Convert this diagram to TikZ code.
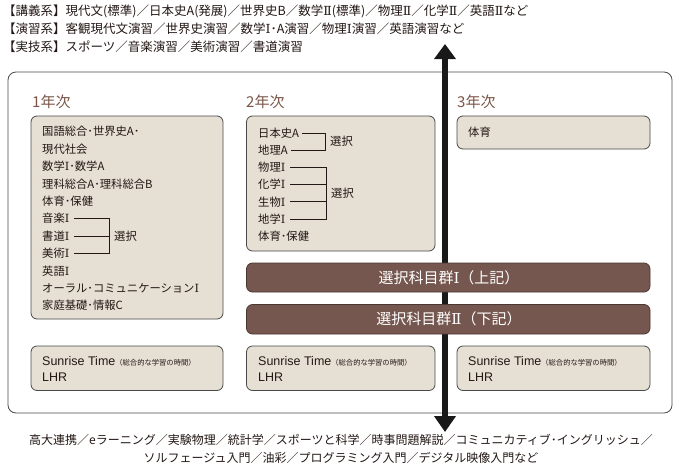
\documentclass[tikz,border=0pt]{standalone}
\usepackage{fontspec}
\setmainfont{Noto Sans CJK JP}
\newfontfamily\latfont{Liberation Sans}
\newfontfamily\romfont{DejaVu Serif}
\usetikzlibrary{arrows.meta}
\newcommand\RI{{\romfont Ⅰ}}
\newcommand\RII{{\romfont Ⅱ}}
\newcommand\dt{･}
\definecolor{boxfill}{HTML}{E5DFD4}
\definecolor{boxline}{HTML}{4A4A4A}
\definecolor{barfill}{HTML}{76574F}
\definecolor{barline}{HTML}{4B3732}
\definecolor{yearcol}{HTML}{7B5548}
\definecolor{txt}{HTML}{231815}
\tikzset{
  subj/.style={fill=boxfill,draw=boxline,line width=0.8pt,rounded corners=6pt},
  barbox/.style={fill=barfill,draw=barline,line width=0.8pt,rounded corners=6pt},
  lbl/.style={anchor=west,inner sep=0pt,text=txt,font=\fontsize{11.3}{12}\selectfont},
  toptxt/.style={anchor=west,inner sep=0pt,text=txt,font=\fontsize{12.5}{13}\selectfont},
  bottxt/.style={inner sep=0pt,text=txt,font=\fontsize{12}{13}\selectfont},
  year/.style={anchor=west,inner sep=0pt,text=yearcol,font=\fontsize{15}{16}\selectfont},
  bartxt/.style={inner sep=0pt,text=white,font=\fontsize{15}{16}\selectfont},
  brk/.style={draw=txt,line width=0.7pt},
  srt/.style={anchor=west,inner sep=0pt,text=txt,font=\latfont\fontsize{12.5}{13}\selectfont}
}
\begin{document}
\begin{tikzpicture}[x=1pt,y=-1pt]
\useasboundingbox (0,0) rectangle (679,466);
% top texts
\node[toptxt] (t1) at (3,11) {【講義系】現代文(標準)／日本史A(発展)／世界史B／数学\RII(標準)／物理\RII／化学\RII／英語\RII など};
\node[toptxt] (t2) at (3,29) {【演習系】客観現代文演習／世界史演習／数学\RI\dt A演習／物理\RI 演習／英語演習など};
\node[toptxt] (t3) at (3,47) {【実技系】スポーツ／音楽演習／美術演習／書道演習};
% outer box
\draw[draw=boxline,line width=0.8pt,rounded corners=8pt,fill=white] (8,72) rectangle (672,413);
% arrow (behind the bars)
\coordinate (atop) at (445,44);
\coordinate (abot) at (445,432);
\draw[line width=6.5pt,draw=black!90,{Triangle[length=15pt,width=21pt]}-{Triangle[length=16pt,width=21pt]}] (atop) -- (abot);
% year labels
\node[year] (y1) at (32,102) {1年次};
\node[year] (y2) at (246,102) {2年次};
\node[year] (y3) at (457,102) {3年次};
% box 1
\draw[subj] (31,116) rectangle (223,319);
\node[lbl] (a1) at (42,131.7) {国語総合\dt 世界史A\dt};
\node[lbl] (a2) at (42,149.1) {現代社会};
\node[lbl] (a3) at (42,166.5) {数学\RI\dt 数学A};
\node[lbl] (a4) at (42,183.9) {理科総合A\dt 理科総合B};
\node[lbl] (a5) at (42,201.3) {体育\dt 保健};
\node[lbl] (a6) at (42,218.7) {音楽\RI};
\node[lbl] (a7) at (42,236.1) {書道\RI};
\node[lbl] (a8) at (42,253.5) {美術\RI};
\node[lbl] (a9) at (42,270.9) {英語\RI};
\node[lbl] (a10) at (42,288.3) {オーラル\dt コミュニケーション\RI};
\node[lbl] (a11) at (42,305.7) {家庭基礎\dt 情報C};
\coordinate (v1) at (109,0);
\draw[brk] ([xshift=5pt]a6.east) -- (a6.east -| v1) -- (a8.east -| v1) -- ([xshift=5pt]a8.east);
\draw[brk] ([xshift=5pt]a7.east) -- (a7.east -| v1);
\node[lbl] (s1) at (114,236.1) {選択};
% box 2
\draw[subj] (246.5,116) rectangle (435,251);
\node[lbl] (b1) at (258,133) {日本史A};
\node[lbl] (b2) at (258,150.2) {地理A};
\node[lbl] (b3) at (258,167.4) {物理\RI};
\node[lbl] (b4) at (258,184.6) {化学\RI};
\node[lbl] (b5) at (258,201.8) {生物\RI};
\node[lbl] (b6) at (258,219) {地学\RI};
\node[lbl] (b7) at (258,236.2) {体育\dt 保健};
\coordinate (v2) at (325,0);
\draw[brk] ([xshift=3pt]b1.east) -- (b1.east -| v2) -- (b2.east -| v2) -- ([xshift=3pt]b2.east);
\node[lbl] (s2) at (330,141.6) {選択};
\coordinate (v3) at (326,0);
\draw[brk] ([xshift=5pt]b3.east) -- (b3.east -| v3) -- (b6.east -| v3) -- ([xshift=5pt]b6.east);
\draw[brk] ([xshift=5pt]b4.east) -- (b4.east -| v3);
\draw[brk] ([xshift=5pt]b5.east) -- (b5.east -| v3);
\node[lbl] (s3) at (331,193.2) {選択};
% box 3
\draw[subj] (457,116) rectangle (650,149);
\node[lbl] (c1) at (468,132.5) {体育};
% bars
\draw[barbox] (246.5,263) rectangle (650,292);
\node[bartxt] (g1) at (449,277.5) {選択科目群\RI（上記）};
\draw[barbox] (246.5,304.5) rectangle (650,334);
\node[bartxt] (g2) at (449,319.2) {選択科目群\RII（下記）};
% sunrise boxes
\draw[subj] (31,346) rectangle (223,390.5);
\draw[subj] (246.5,346) rectangle (435,390.5);
\draw[subj] (457,346) rectangle (650,390.5);
\foreach \xx/\nm in {42/d1,258/d2,468/d3}{
  \node[srt] (\nm) at (\xx,361) {Sunrise Time{\rmfamily\fontsize{7.3}{8}\selectfont（総合的な学習の時間）}};
  \node[srt] (\nm l) at (\xx,377.5) {LHR};
}
% bottom texts
\node[bottxt] (u1) at (341,440) {高大連携／eラーニング／実験物理／統計学／スポーツと科学／時事問題解説／コミュニカティブ\dt イングリッシュ／};
\node[bottxt] (u2) at (341,458) {ソルフェージュ入門／油彩／プログラミング入門／デジタル映像入門など};
\end{tikzpicture}
\end{document}
